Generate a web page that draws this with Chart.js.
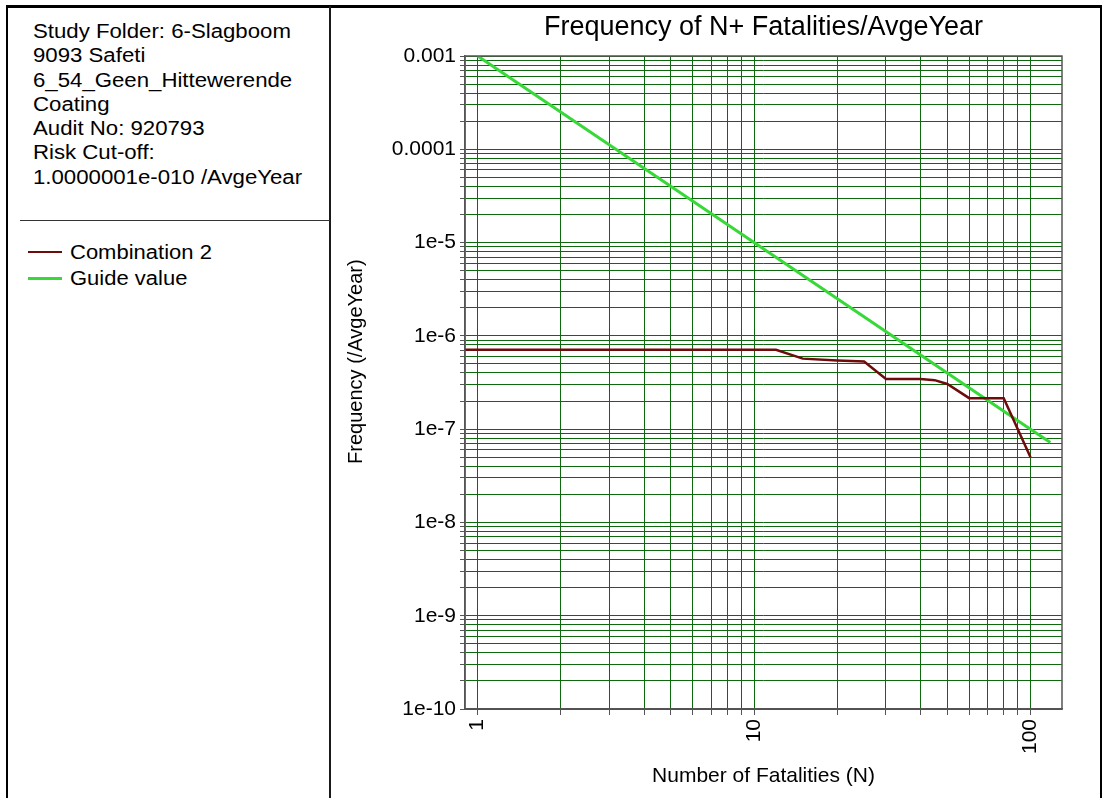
<!DOCTYPE html>
<html>
<head>
<meta charset="utf-8">
<title>FN curve</title>
<script src="https://cdn.jsdelivr.net/npm/chart.js@4.4.1/dist/chart.umd.min.js"></script>
<style>
  body { margin: 0; width: 1106px; height: 798px; overflow: hidden; background: #fff;
         font-family: "Liberation Sans", Arial, sans-serif; color: #000; }
  #frame { position: absolute; left: 6px; top: 5px; width: 1096px; height: 830px;
           border: 2px solid #000; border-top-width: 3px; box-sizing: border-box; }
  #divider { position: absolute; left: 329px; top: 6px; width: 2px; height: 800px; background: #1a1a1a; }
  #info { position: absolute; left: 33px; top: 19px; font-size: 20px; line-height: 24.3px;
          transform: scaleX(1.11); transform-origin: 0 0; white-space: nowrap; }
  #sep { position: absolute; left: 20px; top: 220px; width: 310px; height: 1px; background: #333; }
  #legend { position: absolute; left: 28px; top: 239px; font-size: 20px; line-height: 26px; }
  .item { display: flex; align-items: center; white-space: nowrap; }
  .swatch { width: 34px; margin-right: 8px; }
  .txt { display: inline-block; transform: scaleX(1.1); transform-origin: 0 50%; }
  #wrap { position: absolute; left: 332px; top: 8px; }
</style>
</head>
<body>
<div id="frame"></div>
<div id="divider"></div>
<div id="info"></div>
<div id="sep"></div>
<div id="legend"></div>
<div id="wrap"><canvas id="fnChart" width="766" height="790"></canvas></div>
<script>
// header text of the left panel
const infoLines = [
  "Study Folder: 6-Slagboom",
  "9093 Safeti",
  "6_54_Geen_Hittewerende",
  "Coating",
  "Audit No: 920793",
  "Risk Cut-off:",
  "1.0000001e-010 /AvgeYear"
];

// Combination 2 (N, frequency)
const comboN = [0.9, 12, 15, 20, 25, 30, 40, 45, 50, 60, 80, 100];
const comboFreq = [7.1e-7, 7.1e-7, 5.7e-7, 5.45e-7, 5.3e-7, 3.45e-7, 3.45e-7, 3.35e-7, 3.05e-7, 2.15e-7, 2.15e-7, 5.0e-8];

// Guide value line
const guideN = [1, 10, 100, 118];
const guideFreq = [1e-3, 1e-5, 1e-7, 7.2e-8];

// axis decades and their labels
const xDecades = [1, 10, 100];
const xTickLabels = ["1", "10", "100"];
const yDecades = [1e-10, 1e-9, 1e-8, 1e-7, 1e-6, 1e-5, 1e-4, 1e-3];
const yTickLabels = ["1e-10", "1e-9", "1e-8", "1e-7", "1e-6", "1e-5", "0.0001", "0.001"];
const yTitle = "Frequency (/AvgeYear)";

const FONT = "'Liberation Sans', Arial, sans-serif";
const gridGreen = "#0e690e";

// 1..9 in every decade, plus the last decade itself
function logTicks(decades) {
  const out = [];
  decades.forEach((d, i) => {
    if (i === decades.length - 1) { out.push(d); return; }
    for (let k = 1; k < 10; k++) out.push(+(k * d).toPrecision(3));
  });
  return out;
}

function labelFor(v, decades, labels) {
  const i = decades.findIndex(d => Math.abs(Math.log10(v) - Math.log10(d)) < 1e-6);
  return i < 0 ? "" : labels[i];
}

document.getElementById("info").innerHTML = infoLines.map(t => "<div>" + t + "</div>").join("");

// frame round the plot area, and the y title sitting a bit above centre like the original
const plotFrame = {
  id: "plotFrame",
  afterDraw(c) {
    const { ctx, chartArea: a } = c;
    ctx.save();
    ctx.strokeStyle = "#555";
    ctx.lineWidth = 1.5;
    ctx.strokeRect(a.left, a.top, a.right - a.left, a.bottom - a.top);

    ctx.translate(a.left - 109, a.top + (a.bottom - a.top) * 0.468);
    ctx.rotate(-Math.PI / 2);
    ctx.fillStyle = "#000";
    ctx.font = "20px " + FONT;
    ctx.textAlign = "center";
    ctx.textBaseline = "middle";
    ctx.fillText(yTitle, 0, 0);
    ctx.restore();
  }
};

const ctx = document.getElementById("fnChart").getContext("2d");
const chart = new Chart(ctx, {
  type: "line",
  data: {
    datasets: [
      {
        label: "Combination 2",
        data: comboN.map((n, i) => ({ x: n, y: comboFreq[i] })),
        borderColor: "#6e0b0b",
        borderWidth: 2.5,
        pointRadius: 0,
        tension: 0
      },
      {
        label: "Guide value",
        data: guideN.map((n, i) => ({ x: n, y: guideFreq[i] })),
        borderColor: "#38d838",
        borderWidth: 3,
        pointRadius: 0,
        tension: 0
      }
    ]
  },
  options: {
    responsive: false,
    animation: false,
    layout: { padding: { left: 0, right: 36, top: 0, bottom: 0 } },
    plugins: {
      legend: { display: false },
      tooltip: { enabled: false },
      title: {
        display: true,
        text: "Frequency of N+ Fatalities/AvgeYear",
        fullSize: false,
        color: "#000",
        font: { family: FONT, size: 27, weight: "normal" },
        padding: { top: 3, bottom: 12.6 }
      }
    },
    scales: {
      x: {
        type: "logarithmic",
        min: 0.9,
        max: 130,
        afterBuildTicks: s => { s.ticks = logTicks(xDecades).map(v => ({ value: v })); },
        afterFit: s => { s.height = 89; },
        ticks: {
          autoSkip: false,
          minRotation: 90,
          maxRotation: 90,
          padding: 4,
          color: "#000",
          font: { family: FONT, size: 21 },
          callback: v => labelFor(v, xDecades, xTickLabels)
        },
        grid: { color: gridGreen, tickColor: "#555", tickLength: 6 },
        border: { color: "#555", width: 1.5 },
        title: {
          display: true,
          text: "Number of Fatalities (N)",
          color: "#000",
          font: { family: FONT, size: 21 },
          padding: { top: 0, bottom: 9 }
        }
      },
      y: {
        type: "logarithmic",
        min: 1e-10,
        max: 1e-3,
        afterBuildTicks: s => { s.ticks = logTicks(yDecades).map(v => ({ value: v })); },
        afterFit: s => { s.width = 133; },
        ticks: {
          autoSkip: false,
          padding: 4,
          color: "#000",
          font: { family: FONT, size: 21 },
          callback: v => labelFor(v, yDecades, yTickLabels)
        },
        grid: { color: gridGreen, tickColor: "#555", tickLength: 5 },
        border: { color: "#555", width: 1.5 }
      }
    }
  },
  plugins: [plotFrame]
});

// legend in the left panel, built from the datasets
document.getElementById("legend").innerHTML = chart.data.datasets.map(ds =>
  '<div class="item"><span class="swatch" style="height:' + ds.borderWidth + 'px;background:' +
  ds.borderColor + '"></span><span class="txt">' + ds.label + "</span></div>"
).join("");
</script>
</body>
</html>
